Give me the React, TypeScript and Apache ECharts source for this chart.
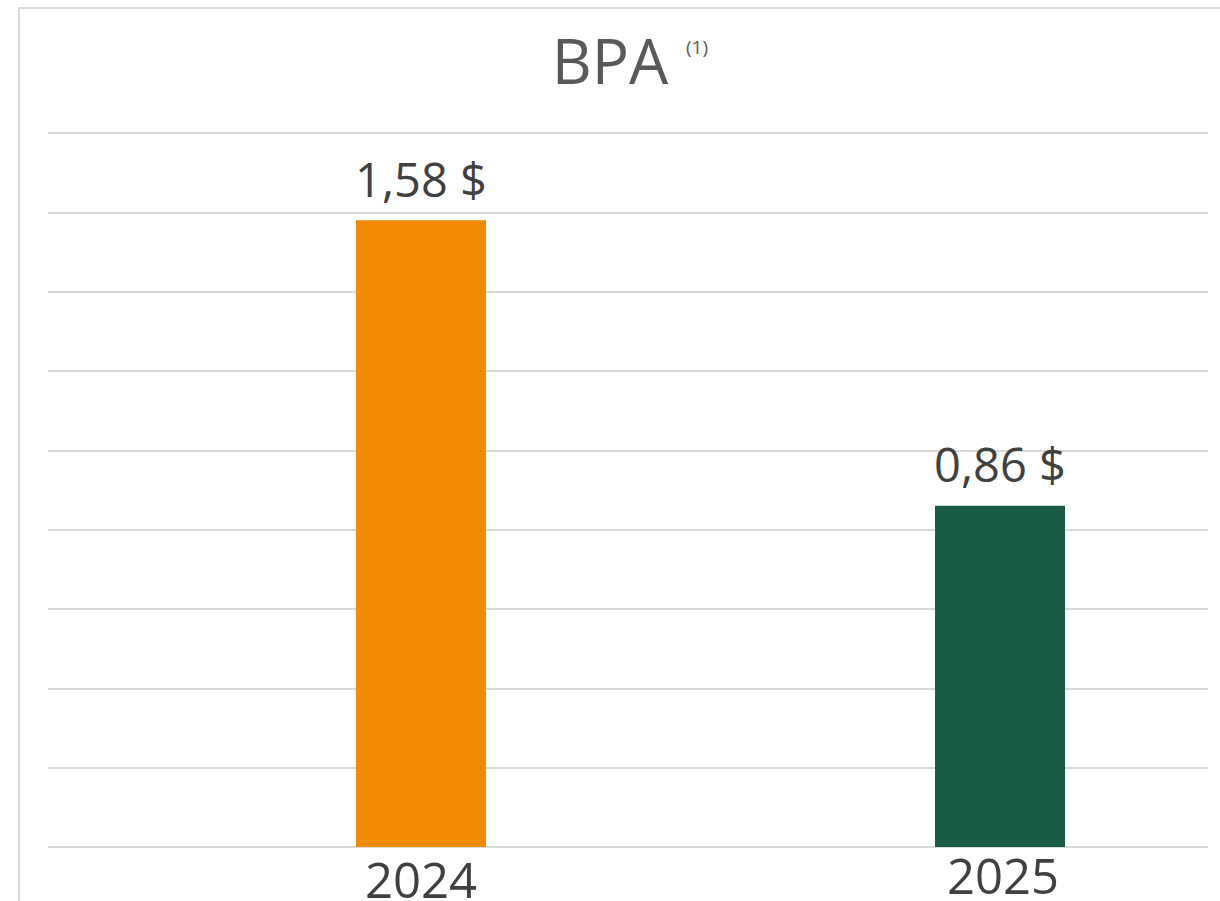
import React, { useEffect, useRef } from "react";
import * as echarts from "echarts";

const categories = ["2024", "2025"];
const values = [1.58, 0.86];
const valueLabels = ["1,58 $", "0,86 $"];
const barColors = ["#F08A00", "#185A42"];
const yTicks = { min: 0, max: 1.8, interval: 0.2 };

const FONT = "'Open Sans', 'Noto Sans', sans-serif";

export default function App() {
  const ref = useRef<HTMLDivElement>(null);
  useEffect(() => {
    if (!ref.current) return;
    const chart = echarts.init(ref.current, null, { renderer: "svg" });
    chart.setOption({
      animation: false,
      backgroundColor: "#ffffff",
      title: {
        text: "BPA",
        left: "center",
        top: 24,
        textStyle: { fontFamily: FONT, fontSize: 62, fontWeight: "normal", color: "#595959" },
      },
      graphic: [
        {
          type: "rect",
          shape: { x: 19, y: 8, width: 1400, height: 1100 },
          style: { fill: "none", stroke: "#d9d9d9", lineWidth: 2 },
          silent: true,
          z: 0,
        },
        {
          type: "text",
          x: 686,
          y: 37,
          style: { text: "(1)", font: `19px ${FONT}`, fill: "#595959" },
        },
      ],
      grid: [
        { left: 48, width: 1160, top: 133, height: 714, outerBoundsMode: "none" },
        { left: 131.5, width: 1158, top: 133, height: 714, outerBoundsMode: "none" },
      ],
      xAxis: [
        { gridIndex: 0, type: "category", data: categories, show: false },
        {
          gridIndex: 1,
          type: "category",
          data: [
            { value: categories[0], textStyle: { padding: [4, 0, 0, 0] } },
            { value: categories[1], textStyle: { padding: [0, 0, 0, 6] } },
          ],
          axisLine: { show: false },
          axisTick: { show: false },
          axisLabel: {
            margin: 8,
            fontFamily: FONT,
            fontSize: 49,
            lineHeight: 40,
            color: "#404040",
          },
        },
      ],
      yAxis: [
        {
          gridIndex: 0,
          type: "value",
          min: yTicks.min,
          max: yTicks.max,
          interval: yTicks.interval,
          axisLabel: { show: false },
          axisLine: { show: false },
          axisTick: { show: false },
          splitLine: { show: true, lineStyle: { color: "#d9d9d9", width: 2 } },
        },
        {
          gridIndex: 1,
          type: "value",
          min: yTicks.min,
          max: yTicks.max,
          interval: yTicks.interval,
          show: false,
          splitLine: { show: false },
        },
      ],
      series: [
        {
          type: "bar",
          xAxisIndex: 1,
          yAxisIndex: 1,
          barWidth: 130,
          data: values.map((v, i) => ({
            value: v,
            itemStyle: { color: barColors[i] },
            label: { formatter: valueLabels[i] },
          })),
          label: {
            show: true,
            position: "top",
            distance: 18,
            fontFamily: FONT,
            fontSize: 47,
            color: "#404040",
          },
          z: 3,
        },
      ],
    });
    return () => chart.dispose();
  }, []);
  return (
    <div
      ref={ref}
      style={{ position: "fixed", left: 0, top: 0, width: 1220, height: 901 }}
    />
  );
}
